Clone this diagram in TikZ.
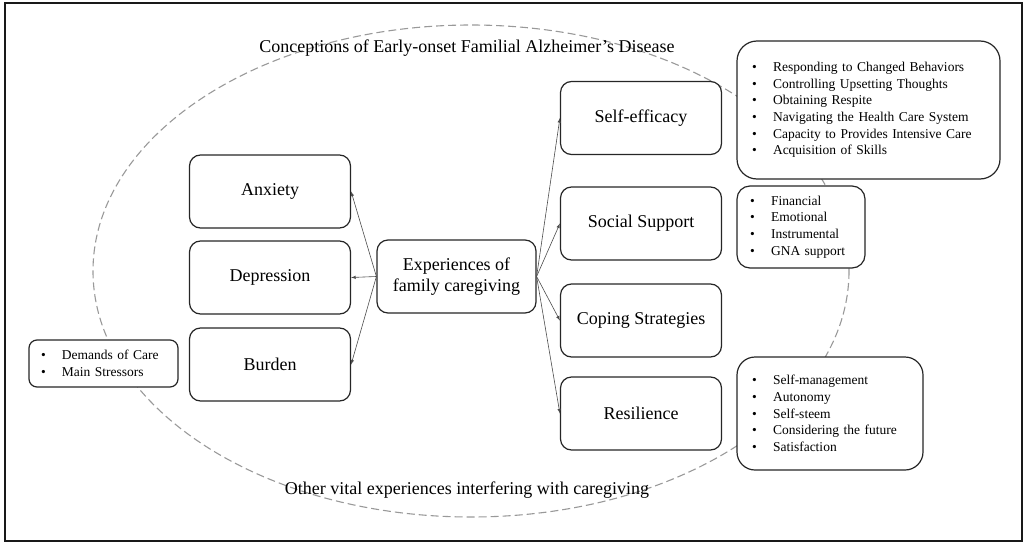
\documentclass[tikz,border=0pt]{standalone}
\usepackage{fontspec}
\setmainfont{Liberation Serif}
\usepackage{tikz}
\usetikzlibrary{arrows}

\newcommand{\bitem}[1]{\makebox[21pt][l]{\textbullet}#1}

\begin{document}
\begin{tikzpicture}[x=1pt, y=-1pt,
	box/.style={draw=black!85, line width=1.2pt, rounded corners=11pt, fill=white, minimum width=161pt, minimum height=73pt, align=center, font=\fontsize{18}{21}\selectfont},
	listbox/.style={draw=black!85, line width=1.2pt, fill=white, align=left, inner ysep=0pt, font=\fontsize{13.5}{16.7}\selectfont},
	heading/.style={font=\fontsize{18}{21}\selectfont, inner sep=0pt},
	arr/.style={-latex, draw=black!70, line width=0.6pt},
	]

	\useasboundingbox (0,0) rectangle (1024,543);
	\draw[line width=2pt, black!90] (5,3) rectangle (1022,541);

	\draw[black!40, line width=1.1pt, dash pattern=on 8pt off 4pt] (471,271) ellipse [x radius=378, y radius=246];

	\node[heading] (concept) at (467,48) {Conceptions of Early-onset Familial Alzheimer’s Disease};
	\node[heading] (other) at (467,490) {Other vital experiences interfering with caregiving};

	\node[box] (anx) at (270,191.5) {Anxiety};
	\node[box] (dep) at (270,277.5) {Depression};
	\node[box] (bur) at (270,364.5) {Burden};

	\node[box, minimum width=159pt] (exp) at (456.5,276.5) {Experiences of\\family caregiving};

	\node[box] (se) at (641,118) {Self-efficacy};
	\node[box] (ss) at (641,223.5) {Social Support};
	\node[box] (cs) at (641,320.5) {Coping Strategies};
	\node[box] (res) at (641,413.5) {Resilience};

	\node[listbox, rounded corners=20pt, text width=233pt, inner xsep=15pt, minimum height=138pt] (selist) at (868.5,110) {\bitem{Responding to Changed Behaviors}\\\bitem{Controlling Upsetting Thoughts}\\\bitem{Obtaining Respite}\\\bitem{Navigating the Health Care System}\\\bitem{Capacity to Provides Intensive Care}\\\bitem{Acquisition of Skills}};
	\node[listbox, rounded corners=13pt, text width=102pt, inner xsep=13pt, minimum height=82pt] (sslist) at (801,227) {\bitem{Financial}\\\bitem{Emotional}\\\bitem{Instrumental}\\\bitem{GNA support}};
	\node[listbox, rounded corners=18pt, text width=156pt, inner xsep=15pt, minimum height=113pt] (reslist) at (830,413.5) {\bitem{Self-management}\\\bitem{Autonomy}\\\bitem{Self-steem}\\\bitem{Considering the future}\\\bitem{Satisfaction}};
	\node[listbox, rounded corners=8pt, text width=125pt, inner xsep=12pt, minimum height=47pt] (dem) at (103.5,363.5) {\bitem{Demands of Care}\\\bitem{Main Stressors}};

	\draw[arr] (exp.west) -- (anx.east);
	\draw[arr] (exp.west) -- (dep.east);
	\draw[arr] (exp.west) -- (bur.east);

	\draw[arr] (exp.east) -- (se.west);
	\draw[arr] (exp.east) -- (ss.west);
	\draw[arr] (exp.east) -- (cs.west);
	\draw[arr] (exp.east) -- (res.west);
\end{tikzpicture}
\end{document}
